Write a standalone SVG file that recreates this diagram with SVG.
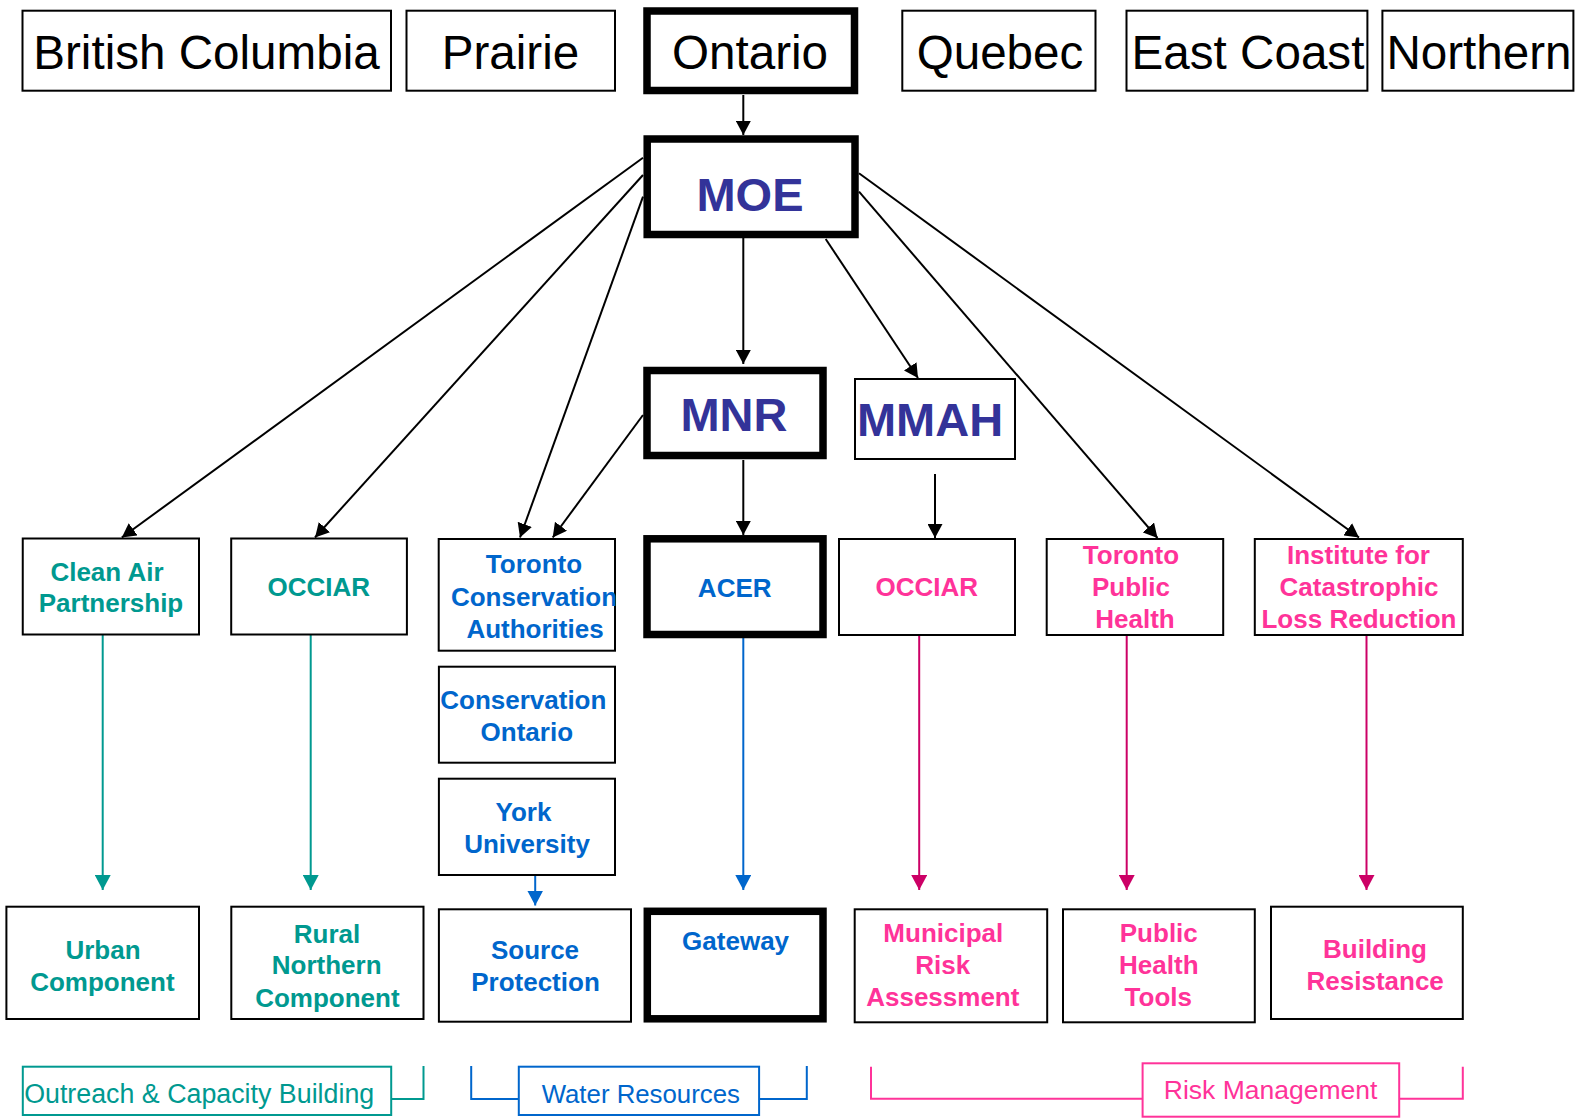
<svg xmlns="http://www.w3.org/2000/svg" width="1575" height="1118" viewBox="0 0 1575 1118">
<style>
text{font-family:"Liberation Sans",Arial,Helvetica,sans-serif;text-anchor:middle}
.big{font-size:47.6px;fill:#000}
.hd{font-size:47px;font-weight:bold;fill:#333399}
.b{font-size:26px;font-weight:bold}
.teal{fill:#009990}
.blue{fill:#0066CC}
.pink{fill:#FF3399}
.box{fill:#fff;stroke:#000;stroke-width:2}
.thick{fill:#fff;stroke:#000;stroke-width:7.5}
.blk{stroke:#000;stroke-width:2;fill:none}
.tl{stroke:#009990;stroke-width:2;fill:none}
.bl{stroke:#0066CC;stroke-width:2;fill:none}
.pl{stroke:#CC0066;stroke-width:2;fill:none}
.tb{fill:#fff;stroke:#009990;stroke-width:2}
.bb{fill:#fff;stroke:#0066CC;stroke-width:2}
.pb{fill:#fff;stroke:#FF3399;stroke-width:2}
.tbr{stroke:#009990;stroke-width:2;fill:none}
.bbr{stroke:#0066CC;stroke-width:2;fill:none}
.pbr{stroke:#FF3399;stroke-width:2;fill:none}
.reg{font-size:26.5px}
</style>
<defs>
<marker id="ab" markerUnits="userSpaceOnUse" markerWidth="14" markerHeight="15" refX="14" refY="7.5" orient="auto"><path d="M0,0 L14,7.5 L0,15 z" fill="#000"/></marker>
<marker id="at" markerUnits="userSpaceOnUse" markerWidth="15" markerHeight="16" refX="15" refY="8" orient="auto"><path d="M0,0 L15,8 L0,16 z" fill="#009990"/></marker>
<marker id="abl" markerUnits="userSpaceOnUse" markerWidth="15" markerHeight="16" refX="15" refY="8" orient="auto"><path d="M0,0 L15,8 L0,16 z" fill="#0066CC"/></marker>
<marker id="ap" markerUnits="userSpaceOnUse" markerWidth="15" markerHeight="16" refX="15" refY="8" orient="auto"><path d="M0,0 L15,8 L0,16 z" fill="#CC0066"/></marker>
</defs>
<rect width="1575" height="1118" fill="#fff"/>

<g id="connectors">
<line class="blk" x1="743.3" y1="95" x2="743.3" y2="135" marker-end="url(#ab)"/>
<line class="blk" x1="743.3" y1="238" x2="743.3" y2="364" marker-end="url(#ab)"/>
<line class="blk" x1="825.7" y1="239" x2="918" y2="378" marker-end="url(#ab)"/>
<line class="blk" x1="643" y1="157.7" x2="121.8" y2="537.5" marker-end="url(#ab)"/>
<line class="blk" x1="643" y1="175" x2="315" y2="537.5" marker-end="url(#ab)"/>
<line class="blk" x1="643" y1="196.7" x2="520" y2="537.5" marker-end="url(#ab)"/>
<line class="blk" x1="643" y1="415" x2="552.7" y2="537.5" marker-end="url(#ab)"/>
<line class="blk" x1="859" y1="173.3" x2="1359" y2="537.5" marker-end="url(#ab)"/>
<line class="blk" x1="859" y1="191.7" x2="1157.5" y2="538" marker-end="url(#ab)"/>
<line class="blk" x1="743.3" y1="460" x2="743.3" y2="535" marker-end="url(#ab)"/>
<line class="blk" x1="935" y1="474" x2="935" y2="538" marker-end="url(#ab)"/>
<line class="tl" x1="102.7" y1="635" x2="102.7" y2="890" marker-end="url(#at)"/>
<line class="tl" x1="310.7" y1="635" x2="310.7" y2="890" marker-end="url(#at)"/>
<line class="bl" x1="743.3" y1="638" x2="743.3" y2="890" marker-end="url(#abl)"/>
<line class="bl" x1="535.2" y1="875" x2="535.2" y2="905.5" marker-end="url(#abl)"/>
<line class="pl" x1="919.2" y1="635" x2="919.2" y2="890" marker-end="url(#ap)"/>
<line class="pl" x1="1126.7" y1="635" x2="1126.7" y2="890" marker-end="url(#ap)"/>
<line class="pl" x1="1366.5" y1="635" x2="1366.5" y2="890" marker-end="url(#ap)"/>
</g>

<g id="british-columbia"><rect class="box" x="22.5" y="10.7" width="368.5" height="80"/><text class="big" x="206.5" y="69">British Columbia</text></g>
<g id="prairie"><rect class="box" x="406.5" y="10.7" width="208.5" height="80"/><text class="big" x="510.5" y="69">Prairie</text></g>
<g id="ontario"><rect class="thick" x="647" y="11" width="207.5" height="79.5"/><text class="big" x="750" y="69">Ontario</text></g>
<g id="quebec"><rect class="box" x="902.3" y="10.7" width="193.2" height="80"/><text class="big" x="1000" y="69">Quebec</text></g>
<g id="east-coast"><rect class="box" x="1126.5" y="10.7" width="240.9" height="80"/><text class="big" x="1248" y="69">East Coast</text></g>
<g id="northern"><rect class="box" x="1382.4" y="10.7" width="191" height="80"/><text class="big" x="1479" y="69">Northern</text></g>

<g id="moe"><rect class="thick" x="647.2" y="139" width="207.8" height="95.5"/><text class="hd" x="750" y="211">MOE</text></g>
<g id="mnr"><rect class="thick" x="647" y="370.5" width="176" height="85"/><text class="hd" x="734" y="431">MNR</text></g>
<g id="mmah"><rect class="box" x="855" y="379" width="160" height="80"/><text class="hd" x="930" y="435.5">MMAH</text></g>

<g id="clean-air"><rect class="box" x="22.75" y="538.5" width="176.25" height="96"/><text class="b teal"><tspan x="107" y="580.7">Clean Air</tspan><tspan x="111" y="612.3">Partnership</tspan></text></g>
<g id="occiar-left"><rect class="box" x="231.2" y="538.5" width="175.7" height="96"/><text class="b teal" x="318.7" y="596">OCCIAR</text></g>
<g id="toronto-conservation"><rect class="box" x="438.7" y="539" width="176.3" height="111.7"/><text class="b blue"><tspan x="534" y="573.3">Toronto</tspan><tspan x="534" y="605.7">Conservation</tspan><tspan x="535" y="637.7">Authorities</tspan></text></g>
<g id="acer"><rect class="thick" x="647" y="538.8" width="176" height="95.7"/><text class="b blue" x="734.7" y="596.7">ACER</text></g>
<g id="occiar-right"><rect class="box" x="839" y="539" width="176" height="96"/><text class="b pink" x="926.7" y="596">OCCIAR</text></g>
<g id="toronto-public-health"><rect class="box" x="1046.7" y="539" width="176.5" height="96"/><text class="b pink"><tspan x="1131" y="564">Toronto</tspan><tspan x="1131" y="596">Public</tspan><tspan x="1135" y="628.3">Health</tspan></text></g>
<g id="iclr"><rect class="box" x="1254.8" y="539" width="208" height="96"/><text class="b pink"><tspan x="1358.5" y="564">Institute for</tspan><tspan x="1359" y="596">Catastrophic</tspan><tspan x="1359" y="628.3">Loss Reduction</tspan></text></g>

<g id="conservation-ontario"><rect class="box" x="438.9" y="666.7" width="176.1" height="96"/><text class="b blue"><tspan x="523.3" y="709">Conservation</tspan><tspan x="526.8" y="740.7">Ontario</tspan></text></g>
<g id="york-university"><rect class="box" x="438.9" y="778.7" width="176.1" height="96.3"/><text class="b blue"><tspan x="523.5" y="820.7">York</tspan><tspan x="527" y="852.7">University</tspan></text></g>

<g id="urban"><rect class="box" x="6.4" y="906.7" width="192.6" height="112.3"/><text class="b teal"><tspan x="103" y="959">Urban</tspan><tspan x="102.4" y="991">Component</tspan></text></g>
<g id="rural-northern"><rect class="box" x="231.3" y="906.7" width="192.2" height="112.3"/><text class="b teal"><tspan x="327" y="942.7">Rural</tspan><tspan x="326.7" y="974.3">Northern</tspan><tspan x="327.4" y="1006.7">Component</tspan></text></g>
<g id="source-protection"><rect class="box" x="438.9" y="909.3" width="192.1" height="112.4"/><text class="b blue"><tspan x="535" y="959">Source</tspan><tspan x="535.5" y="991">Protection</tspan></text></g>
<g id="gateway"><rect class="thick" x="647.3" y="911.3" width="175.7" height="107.5"/><text class="b blue" x="735.6" y="950">Gateway</text></g>
<g id="municipal-risk"><rect class="box" x="854.7" y="909.3" width="192.5" height="113"/><text class="b pink"><tspan x="943.3" y="942.3">Municipal</tspan><tspan x="942.7" y="974.3">Risk</tspan><tspan x="942.8" y="1006">Assessment</tspan></text></g>
<g id="public-health-tools"><rect class="box" x="1063" y="909.3" width="191.8" height="113"/><text class="b pink"><tspan x="1158.8" y="942.3">Public</tspan><tspan x="1158.8" y="974.3">Health</tspan><tspan x="1158.3" y="1006">Tools</tspan></text></g>
<g id="building-resistance"><rect class="box" x="1271" y="906.7" width="191.8" height="112.3"/><text class="b pink"><tspan x="1375" y="958.3">Building</tspan><tspan x="1375.2" y="990">Resistance</tspan></text></g>

<g id="outreach"><polyline class="tbr" points="391.2,1099 423.5,1099 423.5,1066"/><rect class="tb" x="22.8" y="1066.7" width="368.4" height="48.3"/><text class="reg teal" x="199.2" y="1102.7" style="font-size:26.8px">Outreach &amp; Capacity Building</text></g>
<g id="water-resources"><polyline class="bbr" points="471.2,1066 471.2,1099 518.8,1099"/><polyline class="bbr" points="759.1,1099 806.8,1099 806.8,1066"/><rect class="bb" x="518.8" y="1066.7" width="240.3" height="48.3"/><text class="reg blue" x="640.8" y="1102.7" style="font-size:25.8px">Water Resources</text></g>
<g id="risk-management"><polyline class="pbr" points="871,1066.7 871,1098.7 1142.6,1098.7"/><polyline class="pbr" points="1399.2,1098.7 1462.8,1098.7 1462.8,1066.7"/><rect class="pb" x="1142.6" y="1063.3" width="256.6" height="53.4"/><text class="reg pink" x="1270.6" y="1099.3">Risk Management</text></g>
</svg>
